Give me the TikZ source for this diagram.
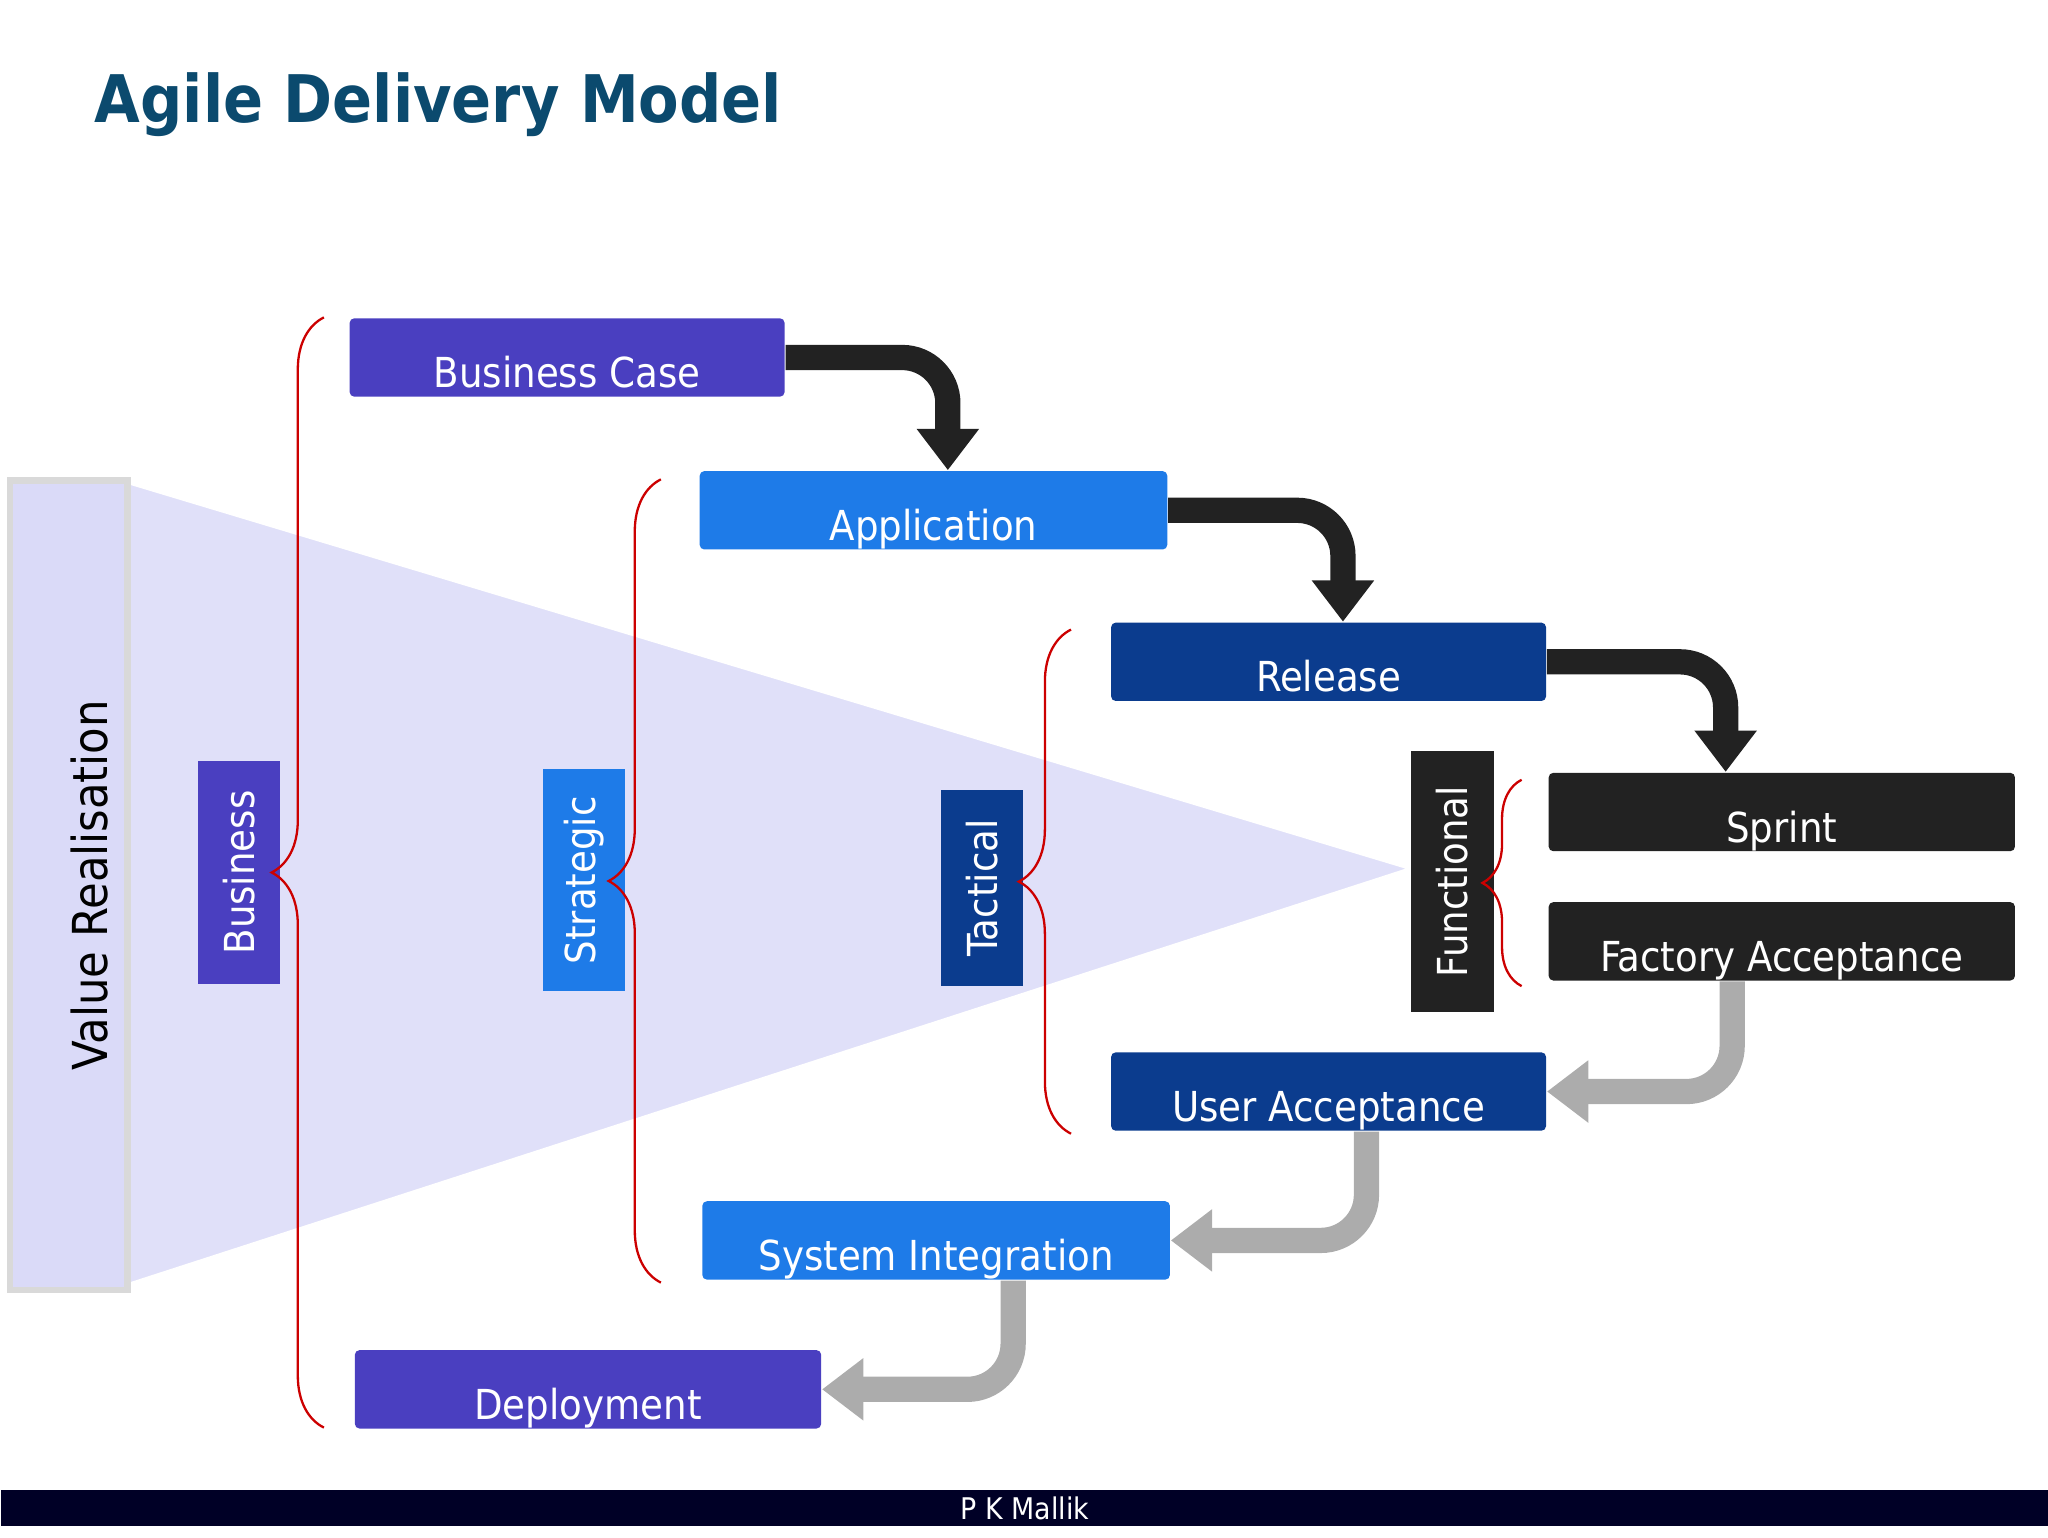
\documentclass[tikz,border=0pt]{standalone}
\usepackage{fontspec}
\setmainfont{DejaVu Sans Condensed}
\usetikzlibrary{positioning,arrows.meta,decorations.pathreplacing,calc}
\definecolor{titleblue}{HTML}{0B4A6E}
\definecolor{cpurple}{HTML}{4A3FC0}
\definecolor{cblue}{HTML}{1E7BE8}
\definecolor{cdark}{HTML}{0B3C8E}
\definecolor{cblack}{HTML}{222222}
\definecolor{lav}{HTML}{DADAF8}
\newcommand{\lowtext}[1]{\raisebox{-2.3mm}[0pt][0pt]{#1}}
\tikzset{>=latex}
\tikzset{stage/.style={minimum width=33.3mm,minimum height=6mm,rounded corners=1pt,text=white,
  font=\fontsize{9}{10}\selectfont,inner sep=0pt,anchor=north west},
  level/.style={rotate=90,minimum width=17mm,minimum height=6.3mm,text=white,
  font=\fontsize{9}{10}\selectfont,inner sep=0pt},
  brc/.style={red!80!black,line width=.5pt,decorate,decoration={brace,amplitude=4mm}},
  blk/.style={line width=5.5pt,draw=cblack,-{Triangle[width=13pt,length=9pt]},rounded corners=3.5mm},
  gry/.style={line width=5.5pt,draw=gray!65,-{Triangle[width=13pt,length=9pt]},rounded corners=3.5mm}}
\begin{document}
\begin{tikzpicture}[x=0.1mm,y=-0.1mm]
  \useasboundingbox (0,0) rectangle (1568,1177);
  \node[anchor=west,inner sep=0pt,text=titleblue,font=\fontsize{14.3}{17}\selectfont\bfseries] (title) at (72,80) {Agile Delivery Model};

  % value triangle
  \fill[lav!85] (95,368) -- (1082,665) -- (95,985) -- cycle;
  \draw[white,line width=1pt] (95,368) -- (1082,665) -- (95,985);
  \node[draw=gray!30,line width=1.5pt,fill=lav,minimum width=9mm,minimum height=62mm,anchor=north west] (value) at (5,365) {};
  \node[rotate=90,font=\fontsize{10.5}{12}\selectfont] at (value.center) [yshift=-1.6mm] {Value Realisation};

  % stages
  \node[stage,fill=cpurple] (bcase) at (267,243) {\lowtext{Business Case}};
  \node[stage,fill=cblue,minimum width=35.8mm] (app) at (535,360) {\lowtext{Application}};
  \node[stage,fill=cdark] (rel) at (850,476) {\lowtext{Release}};
  \node[stage,fill=cblack,minimum width=35.7mm] (sprint) at (1185,591) {\lowtext{Sprint}};
  \node[stage,fill=cblack,minimum width=35.7mm] (fat) at (1185,690) {\lowtext{Factory Acceptance}};
  \node[stage,fill=cdark] (uat) at (850,805) {\lowtext{User Acceptance}};
  \node[stage,fill=cblue,minimum width=35.8mm] (sit) at (537,919) {\lowtext{System Integration}};
  \node[stage,fill=cpurple,minimum width=35.7mm] (deploy) at (271,1033) {\lowtext{Deployment}};

  % levels
  \node[level,fill=cpurple] (business) at (183,668) {Business};
  \node[level,fill=cblue] (strategic) at (447,674) {Strategic};
  \node[level,fill=cdark,minimum width=15mm] (tactical) at (752,680) {Tactical};
  \node[level,fill=cblack,minimum width=20mm] (functional) at (1112,675) {Functional};

  % braces
  \draw[brc] (248,1093) -- (248,243);
  \draw[brc] (506,982) -- (506,367);
  \draw[brc] (820,868) -- (820,482);
  \draw[brc,decoration={amplitude=3mm}] (1165,755) -- (1165,597);

  % arrows
  \draw[blk] (bcase.east) -| ([xshift=1.1mm]app.north);
  \draw[blk] (app.east) -| ([xshift=1.1mm]rel.north);
  \draw[blk] (rel.east) -| ([xshift=-4.3mm]sprint.north);
  \draw[gry] ([xshift=-3.8mm]fat.south) |- (uat.east);
  \draw[gry] ([xshift=2.9mm]uat.south) |- (sit.east);
  \draw[gry] ([xshift=5.9mm]sit.south) |- (deploy.east);

  % footer
  \node[fill=black!85!blue,minimum width=156.8mm,minimum height=2.8mm,anchor=north west,inner sep=0pt,
    text=white,font=\fontsize{6.5}{7}\selectfont] (footer) at (0,1140) {P K Mallik};
\end{tikzpicture}
\end{document}
